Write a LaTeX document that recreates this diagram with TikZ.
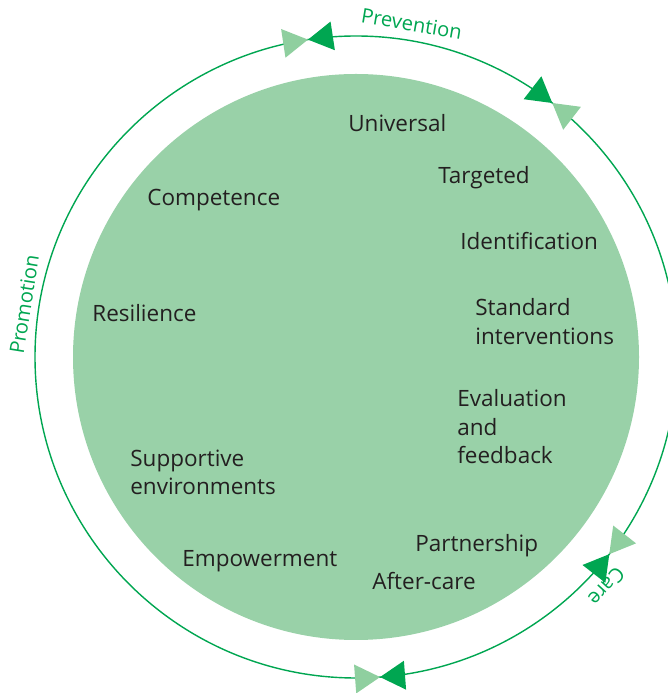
\documentclass[tikz,border=0pt]{standalone}
\usepackage{fontspec}
\setmainfont{Open Sans}
\definecolor{ringgreen}{HTML}{00A651}
\definecolor{discgreen}{HTML}{99D1A8}
\definecolor{palegreen}{HTML}{8FCF9F}
\definecolor{inktext}{HTML}{231F20}

\begin{document}
\begin{tikzpicture}[x=0.02cm,y=0.02cm,
	item/.style={anchor=west,align=left,text=inktext,inner sep=0pt,font=\fontsize{12.8}{16.2}\selectfont},
	ringlabel/.style={text=ringgreen,inner sep=0pt,font=\fontsize{11.5}{13}\selectfont}]
	\useasboundingbox (0,0) rectangle (667,693);
	\coordinate (C) at (356,336);

	\fill [discgreen] (C) circle (283);
	\draw [ringgreen,line width=0.8pt] (C) circle (321);

	% bow-tie markers on the ring
	\foreach \a/\s in {98.6/-1,52.3/1,-37.9/-1,-85.7/1}{
		\begin{scope}[shift={(C)},rotate=\a]
			\fill [ringgreen] (321,0) -- (306.5,25*\s) -- (335.5,25*\s) -- cycle;
			\fill [palegreen] (321,0) -- (306.5,-25*\s) -- (335.5,-25*\s) -- cycle;
		\end{scope}
	}

	\node [ringlabel,rotate=-9.5] (prevention) at ([shift={(80.5:338)}]C) {Prevention};
	\node [ringlabel,rotate=81] (promotion) at ([shift={(171:336)}]C) {Promotion};
	\node [ringlabel,rotate=-132.5] (care) at ([shift={(-42.5:340)}]C) {Care};

	\node [item] (universal) at (348,570) {Universal};
	\node [item] (targeted) at (438,515) {Targeted};
	\node [item] (identification) at (460,452) {Identification};
	\node [item] (standard) at (475,371.5) {Standard\\interventions};
	\node [item] (evaluation) at (457,266) {Evaluation\\and\\feedback};
	\node [item] (partnership) at (415,147) {Partnership};
	\node [item] (aftercare) at (372,112) {After-care};
	\node [item] (empowerment) at (182,132) {Empowerment};
	\node [item] (supportive) at (130,220.5) {Supportive\\environments};
	\node [item] (resilience) at (92,380) {Resilience};
	\node [item] (competence) at (147,493) {Competence};
\end{tikzpicture}
\end{document}
